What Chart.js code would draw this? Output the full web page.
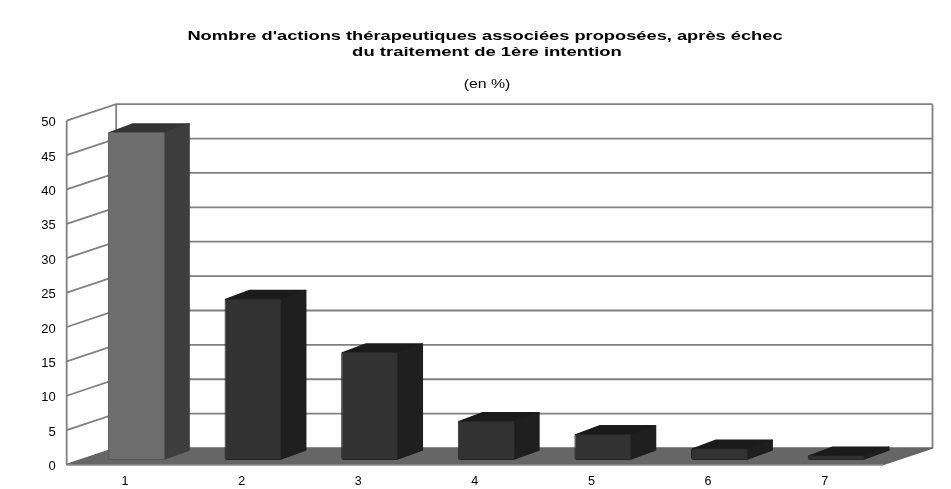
<!DOCTYPE html>
<html lang="fr">
<head>
<meta charset="utf-8">
<title>Actions thérapeutiques</title>
<script src="https://cdn.jsdelivr.net/npm/chart.js@4"></script>
<style>
  html, body { margin: 0; background: #fff; overflow: hidden; }
  canvas { display: block; filter: blur(0.4px); }
</style>
</head>
<body>
<canvas id="chart" width="951" height="489"></canvas>
<script>
// ── Données ──────────────────────────────
const categories = ['1', '2', '3', '4', '5', '6', '7'];
const valeurs = [47.7, 23.5, 15.7, 5.7, 3.8, 1.7, 0.7];
const yTicks = [0, 5, 10, 15, 20, 25, 30, 35, 40, 45, 50];
const titre = ["Nombre d'actions thérapeutiques associées proposées, après échec", 'du traitement de 1ère intention'];
const sousTitre = '(en %)';

// ── Couleurs (la 1re barre est plus claire) ──
const faces = ['#6e6e6e', '#323232', '#323232', '#323232', '#323232', '#323232', '#323232'];
const bords = ['#565656', '#262626', '#262626', '#262626', '#262626', '#262626', '#262626'];
const cotes = ['#3e3e3e', '#1f1f1f', '#1f1f1f', '#1f1f1f', '#1f1f1f', '#1f1f1f', '#1f1f1f'];
const dessus = ['#343434', '#1b1b1b', '#1b1b1b', '#1b1b1b', '#1b1b1b', '#1b1b1b', '#1b1b1b'];

// profondeur de la perspective
const DEPTH_X = 49.5, DEPTH_Y = -16.5;
const BAR_SHIFT_X = 11.5, BAR_SHIFT_Y = -4.5;
const BAR_DEPTH_X = 25, BAR_DEPTH_Y = -9;
const GRID = '#808080';

function poly(ctx, pts, fill) {
  ctx.beginPath();
  pts.forEach((p, i) => i ? ctx.lineTo(p[0], p[1]) : ctx.moveTo(p[0], p[1]));
  ctx.closePath();
  ctx.fillStyle = fill;
  ctx.strokeStyle = fill;
  ctx.lineWidth = 1.5;
  ctx.lineJoin = 'round';
  ctx.fill();
  ctx.stroke();
}

// Le texte de l'original est étiré en largeur
function wideText(ctx, text, x, y, font, stretch) {
  ctx.save();
  ctx.translate(x, y);
  ctx.scale(stretch, 1);
  ctx.font = font;
  ctx.fillStyle = '#000';
  ctx.textAlign = 'center';
  ctx.textBaseline = 'middle';
  ctx.fillText(text, 0, 0);
  ctx.restore();
}

// Murs, sol et grille, calés sur les échelles
const decor3d = {
  id: 'decor3d',
  beforeDatasetsDraw(chart) {
    const { ctx, chartArea: a, scales: { y } } = chart;
    ctx.save();
    wideText(ctx, titre[0], 485, 36, 'bold 13px "Liberation Sans"', 1.405);
    wideText(ctx, titre[1], 487, 52, 'bold 13px "Liberation Sans"', 1.42);
    wideText(ctx, sousTitre, 487, 85, '12px "Liberation Sans"', 1.32);

    ctx.strokeStyle = GRID;
    ctx.lineWidth = 1.8;
    yTicks.forEach(v => {
      if (v === 0) return;
      const py = y.getPixelForValue(v);
      ctx.beginPath();
      ctx.moveTo(a.left, py);
      ctx.lineTo(a.left + DEPTH_X, py + DEPTH_Y);
      ctx.lineTo(a.right + DEPTH_X, py + DEPTH_Y);
      ctx.stroke();
    });
    // montants verticaux
    ctx.beginPath();
    ctx.moveTo(a.left, a.top); ctx.lineTo(a.left, a.bottom);
    ctx.moveTo(a.left + DEPTH_X, a.top + DEPTH_Y); ctx.lineTo(a.left + DEPTH_X, a.bottom + DEPTH_Y);
    ctx.moveTo(a.right + DEPTH_X, a.top + DEPTH_Y); ctx.lineTo(a.right + DEPTH_X, a.bottom + DEPTH_Y);
    ctx.stroke();
    // sol
    poly(ctx, [
      [a.left, a.bottom], [a.right, a.bottom],
      [a.right + DEPTH_X, a.bottom + DEPTH_Y], [a.left + DEPTH_X, a.bottom + DEPTH_Y]
    ], '#666666');
    ctx.fillStyle = '#858585';
    ctx.fillRect(a.left, a.bottom - 0.5, a.right - a.left, 1.6);
    ctx.restore();
  },
  // côté et dessus de chaque barre, puis décalage de la face avant
  beforeDatasetDraw(chart) {
    const { ctx } = chart;
    ctx.save();
    chart.getDatasetMeta(0).data.forEach((bar, i) => {
      const right = bar.x + bar.width / 2 + BAR_SHIFT_X;
      const left = bar.x - bar.width / 2 + BAR_SHIFT_X;
      const top = bar.y + BAR_SHIFT_Y;
      const bottom = bar.base + BAR_SHIFT_Y;
      poly(ctx, [
        [left + 1, top + 1], [left + BAR_DEPTH_X, top + BAR_DEPTH_Y + 1],
        [right + BAR_DEPTH_X - 1, top + BAR_DEPTH_Y + 1], [right - 1, top + 1]
      ], dessus[i]);
      poly(ctx, [
        [right - 1, top + 1], [right + BAR_DEPTH_X - 1, top + BAR_DEPTH_Y + 1],
        [right + BAR_DEPTH_X - 1, bottom + BAR_DEPTH_Y - 1], [right - 1, bottom - 1]
      ], cotes[i]);
    });
    ctx.restore();
    ctx.save();
    ctx.translate(BAR_SHIFT_X, BAR_SHIFT_Y);
  },
  afterDatasetDraw(chart) {
    chart.ctx.restore();
  }
};

new Chart(document.getElementById('chart'), {
  type: 'bar',
  data: {
    labels: categories,
    datasets: [{
      data: valeurs,
      backgroundColor: faces,
      borderColor: bords,
      borderWidth: 1,
      borderRadius: 2,
      borderSkipped: false,
      categoryPercentage: 1,
      barPercentage: 0.49
    }]
  },
  options: {
    responsive: false,
    animation: false,
    layout: { padding: { top: 120.7, right: 68 } },
    plugins: {
      legend: { display: false },
      tooltip: { enabled: false },
      title: { display: false }
    },
    scales: {
      x: {
        grid: { display: false },
        border: { display: false },
        ticks: { color: '#000', font: { family: '"Liberation Sans"', size: 12.5 }, padding: 2, maxRotation: 0 },
        afterFit(scale) { scale.height = 24.5; }
      },
      y: {
        min: 0,
        max: 50,
        grid: { display: false },
        border: { display: false },
        afterBuildTicks(scale) { scale.ticks = yTicks.map(value => ({ value })); },
        ticks: { color: '#000', font: { family: '"Liberation Sans"', size: 13 }, padding: 3, labelOffset: 2 },
        afterFit(scale) { scale.width = 66.7; }
      }
    }
  },
  plugins: [decor3d]
});
</script>
</body>
</html>
